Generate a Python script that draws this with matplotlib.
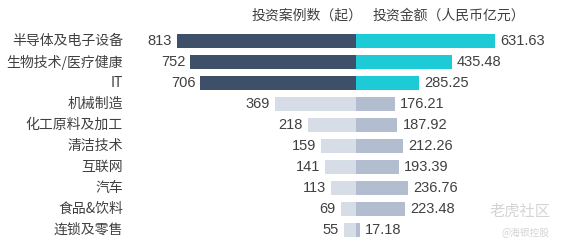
import matplotlib
matplotlib.use("Agg")
import matplotlib.pyplot as plt

plt.rcParams['font.family'] = ['Noto Sans CJK SC', 'DejaVu Sans']

categories = ["半导体及电子设备", "生物技术/医疗健康", "IT", "机械制造", "化工原料及加工",
              "清洁技术", "互联网", "汽车", "食品&饮料", "连锁及零售"]
cases = [813, 752, 706, 369, 218, 159, 141, 113, 69, 55]
amounts = [631.63, 435.48, 285.25, 176.21, 187.92, 212.26, 193.39, 236.76, 223.48, 17.18]
header_left = "投资案例数（起）"
header_right = "投资金额（人民币亿元）"

# pixel layout helpers
W, H = 561, 242
cx = 356           # centre line in px
k = 0.2205         # px per unit
top, step = 41, 21

fig = plt.figure(figsize=(W / 100, H / 100), dpi=100)
ax = fig.add_axes([0, 0, 1, 1])
ax.set_xlim(-cx / k, (W - cx) / k)
ax.set_ylim((H - top) / step, -top / step)
ax.axis('off')

num_font = ['Liberation Sans', 'DejaVu Sans']
txt = '#404040'
pad = 5 / k

for i, (c, n, a) in enumerate(zip(categories, cases, amounts)):
    hi = i < 3
    ax.barh(i, -n, height=0.68, color='#3e5069' if hi else '#d7dde6', linewidth=0)
    ax.barh(i, a, height=0.68, color='#1ccbd6' if hi else '#b2bdcf', linewidth=0)
    ax.text(-n - pad, i, str(n), ha='right', va='center', fontsize=10.5, color=txt, family=num_font)
    ax.text(a + pad, i, f"{a:.2f}", ha='left', va='center', fontsize=10.5, color=txt, family=num_font)
    ax.text((123 - cx) / k, i, c, ha='right', va='center', fontsize=10, color=txt)

ax.text((363 - cx) / k, -1.2, header_left, ha='right', va='center', fontsize=10, color=txt)
ax.text((373 - cx) / k, -1.2, header_right, ha='left', va='center', fontsize=10, color=txt)

# watermark
ax.text((550 - cx) / k, 8.1, "老虎社区", ha='right', va='center', fontsize=11, color='#d4d4d4')
ax.text((550 - cx) / k, 9.15, "@海银控股", ha='right', va='center', fontsize=7, color='#d4d4d4')

fig.savefig("out.png", dpi=100)
